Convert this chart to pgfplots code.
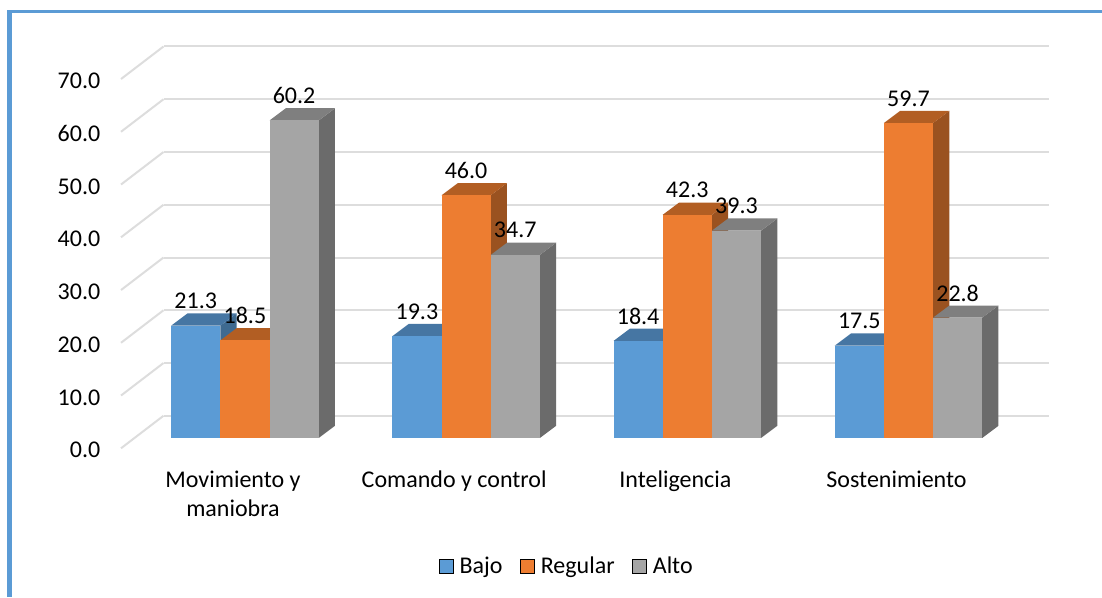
\documentclass[border=0pt]{standalone}
\usepackage{pgfplots}
\usepackage{pgfplotstable}
\usepackage{fontspec}
\setmainfont{Carlito}
\pgfplotsset{compat=1.18}
\definecolor{fB}{HTML}{5B9BD5}\definecolor{tB}{HTML}{4676A3}\definecolor{sB}{HTML}{3E6A90}
\definecolor{fR}{HTML}{ED7D31}\definecolor{tR}{HTML}{B25E23}\definecolor{sR}{HTML}{9A5220}
\definecolor{fA}{HTML}{A5A5A5}\definecolor{tA}{HTML}{7F7F7F}\definecolor{sA}{HTML}{6B6B6B}
\definecolor{grd}{HTML}{DDDDDD}
\pgfplotstableread{
cat s v
0 0 21.3
0 1 18.5
0 2 60.2
1 0 19.3
1 1 46.0
1 2 34.7
2 0 18.4
2 1 42.3
2 2 39.3
3 0 17.5
3 1 59.7
3 2 22.8
}\datatbl
\def\bw{0.2223}   % bar width, categories
\def\dx{0.0737}   % depth, categories
\def\dy{2.315}    % depth, value units
\def\by{1.954}    % base of the bars above the axis zero
\def\xoff{-0.2795}% left edge of the first bar relative to the tick
\newcommand\onebar[3]{%
  \pgfmathsetmacro\xa{#1+\xoff+#2*\bw}%
  \pgfmathsetmacro\xb{\xa+\bw}%
  \pgfmathsetmacro\xc{\xb+\dx}%
  \pgfmathsetmacro\xd{\xa+\dx}%
  \pgfmathsetmacro\ya{\by}%
  \pgfmathsetmacro\yb{#3+\by}%
  \pgfmathsetmacro\yc{\yb+\dy}%
  \pgfmathsetmacro\ye{\ya+\dy}%
  \ifcase#2\def\sr{B}\or\def\sr{R}\or\def\sr{A}\fi
  \edef\tmp{%
    \noexpand\addplot[forget plot,fill=s\sr,draw=none] coordinates {(\xb,\ya) (\xc,\ye) (\xc,\yc) (\xb,\yb)} --cycle;
    \noexpand\addplot[forget plot,fill=t\sr,draw=none] coordinates {(\xa,\yb) (\xb,\yb) (\xc,\yc) (\xd,\yc)} --cycle;
    \noexpand\addplot[forget plot,fill=f\sr,draw=none] coordinates {(\xa,\ya) (\xb,\ya) (\xb,\yb) (\xa,\yb)} --cycle;
  }\tmp
}
\begin{document}
\begin{tikzpicture}
\useasboundingbox (0,0) rectangle (826.5pt,447.75pt);
\fill[fB] (5.25pt,0pt) rectangle (9pt,440.25pt);
\fill[fB] (5.25pt,438pt) rectangle (826.5pt,440.25pt);
\begin{axis}[
  at={(174.75pt,111.525pt)},anchor=origin,
  scale only axis,width=696pt,height=301.35pt,
  xmin=-0.5064,xmax=3.6895,ymin=0,ymax=76.167,
  clip=false,
  axis line style={draw=none},
  major tick length=0pt,
  xtick={0,1,2,3},
  xticklabels={{Movimiento y\\maniobra},{Comando y control},Inteligencia,Sostenimiento},
  xticklabel style={align=center,font=\fontsize{18}{21.75}\selectfont,anchor=north,yshift=-13.25pt},
  ytick={0,10,...,70},
  yticklabel style={font=\fontsize{18}{20}\selectfont,anchor=east,xshift=-12pt,yshift=-1.5pt,
    /pgf/number format/fixed,/pgf/number format/fixed zerofill,/pgf/number format/precision=1,
    /pgf/number format/assume math mode=true},
  legend style={draw=none,fill=none,at={(0.4807,-0.293)},anchor=center,
    font=\fontsize{18}{20}\selectfont,/tikz/every even column/.append style={column sep=11pt},
    /tikz/every odd column/.append style={column sep=2.75pt}},
  legend columns=-1,
  legend image code/.code={\fill[#1] (0cm,-5.25pt) rectangle (10.5pt,5.25pt);},
]
% back wall and floor lines
\pgfplotsinvokeforeach{0,10,...,70}{
  \addplot[forget plot,grd,line width=1.5pt] coordinates {(-0.5064,#1) (-0.3142,#1+6.167)};
  \addplot[forget plot,grd,line width=1.5pt] coordinates {(-0.3142,#1+6.167) (3.6895,#1+6.167)};
}
% bars
\pgfplotsforeachungrouped \r in {0,...,11}{
  \pgfplotstablegetelem{\r}{cat}\of\datatbl\edef\vc{\pgfplotsretval}
  \pgfplotstablegetelem{\r}{s}\of\datatbl\edef\vs{\pgfplotsretval}
  \pgfplotstablegetelem{\r}{v}\of\datatbl\edef\vv{\pgfplotsretval}
  \onebar{\vc}{\vs}{\vv}
}
% data labels
\addplot[forget plot,draw=none,mark=none,
  nodes near coords,point meta=explicit,
  nodes near coords style={font=\fontsize{18}{20}\selectfont,anchor=center,yshift=18.5pt,
    /pgf/number format/fixed,/pgf/number format/fixed zerofill,/pgf/number format/precision=1,
    /pgf/number format/assume math mode=true}]
  table[x expr=\thisrow{cat}+\xoff+(\thisrow{s}+0.5)*\bw,y expr=\thisrow{v}+\by,meta=v]{\datatbl};
\addlegendimage{fill=fB}\addlegendentry{Bajo}
\addlegendimage{fill=fR}\addlegendentry{Regular}
\addlegendimage{fill=fA}\addlegendentry{Alto}
\end{axis}
\end{tikzpicture}
\end{document}
